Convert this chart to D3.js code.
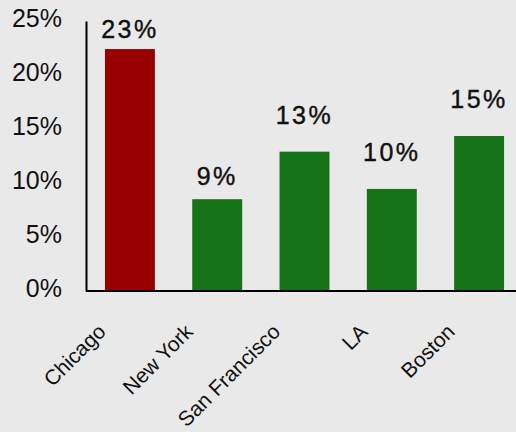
<!DOCTYPE html>
<html>
<head>
<meta charset="utf-8">
<script src="https://cdn.jsdelivr.net/npm/d3@7"></script>
<style>
  html, body { margin: 0; padding: 0; background: #e9e9e9; }
  svg { display: block; }
  text { font-family: "Liberation Sans", Arial, sans-serif; fill: #111; }
</style>
</head>
<body>
<svg id="chart" width="516" height="432"></svg>
<script>
// City shares (percent)
const cities = ["Chicago", "New York", "San Francisco", "LA", "Boston"];
const shares = [22.4, 8.5, 12.9, 9.45, 14.35];
const highlight = ["Chicago"];
const yTicks = [0, 5, 10, 15, 20, 25];

// Distance (px) between each bar top and its value label
const labelGap = [11, 14, 28, 28, 28];

(function draw() {
  const W = 516, H = 432;
  const m = { left: 86, right: 523, top: 21, bottom: 291 };
  const font = "'Liberation Sans', Arial, sans-serif";

  const svg = d3.select("#chart");
  svg.append("rect").attr("width", W).attr("height", H).attr("fill", "#e9e9e9");

  const x = d3.scaleBand()
    .domain(cities)
    .range([m.left, m.right])
    .paddingInner(0.428)
    .paddingOuter(0.217);

  const y = d3.scaleLinear().domain([0, 25]).range([m.bottom, m.top]);

  const data = cities.map((c, i) => ({ city: c, value: shares[i], gap: labelGap[i] }));

  // Bars
  svg.append("g").selectAll("rect")
    .data(data)
    .join("rect")
    .attr("x", d => x(d.city))
    .attr("y", d => y(d.value))
    .attr("width", x.bandwidth())
    .attr("height", d => y(0) - y(d.value))
    .attr("fill", d => highlight.includes(d.city) ? "#990000" : "#177317");

  // Value labels, rounded up to whole percent
  svg.append("g").selectAll("text")
    .data(data)
    .join("text")
    .attr("x", d => x(d.city) + x.bandwidth() / 2)
    .attr("y", d => y(d.value) - d.gap)
    .attr("text-anchor", "middle")
    .style("font-family", font)
    .style("font-size", "25px")
    .style("letter-spacing", "2.5px")
    .style("stroke", "#111")
    .style("stroke-width", "0.4px")
    .text(d => Math.ceil(d.value) + "%");

  // Y axis
  const yAxis = svg.append("g")
    .attr("transform", `translate(${m.left},0)`)
    .call(d3.axisLeft(y).tickValues(yTicks).tickSize(0).tickPadding(24).tickFormat(d => d + "%"));
  yAxis.select(".domain").attr("stroke", "#000").attr("stroke-width", 2);
  yAxis.selectAll("text")
    .style("font-size", "25px")
    .style("font-family", font)
    .attr("fill", "#111")
    .attr("dy", "0.2em");

  // X axis
  const xAxis = svg.append("g")
    .attr("transform", `translate(0,${m.bottom})`)
    .call(d3.axisBottom(x).tickSize(0).tickPadding(0));
  xAxis.select(".domain").attr("stroke", "#000").attr("stroke-width", 2)
    .attr("d", `M${m.left},0H${W}`);
  xAxis.selectAll("text")
    .style("font-size", "21px")
    .style("font-family", font)
    .attr("fill", "#111")
    .attr("text-anchor", "end")
    .attr("dy", 0)
    .attr("transform", "translate(-23,42) rotate(-45)");
})();
</script>
</body>
</html>
